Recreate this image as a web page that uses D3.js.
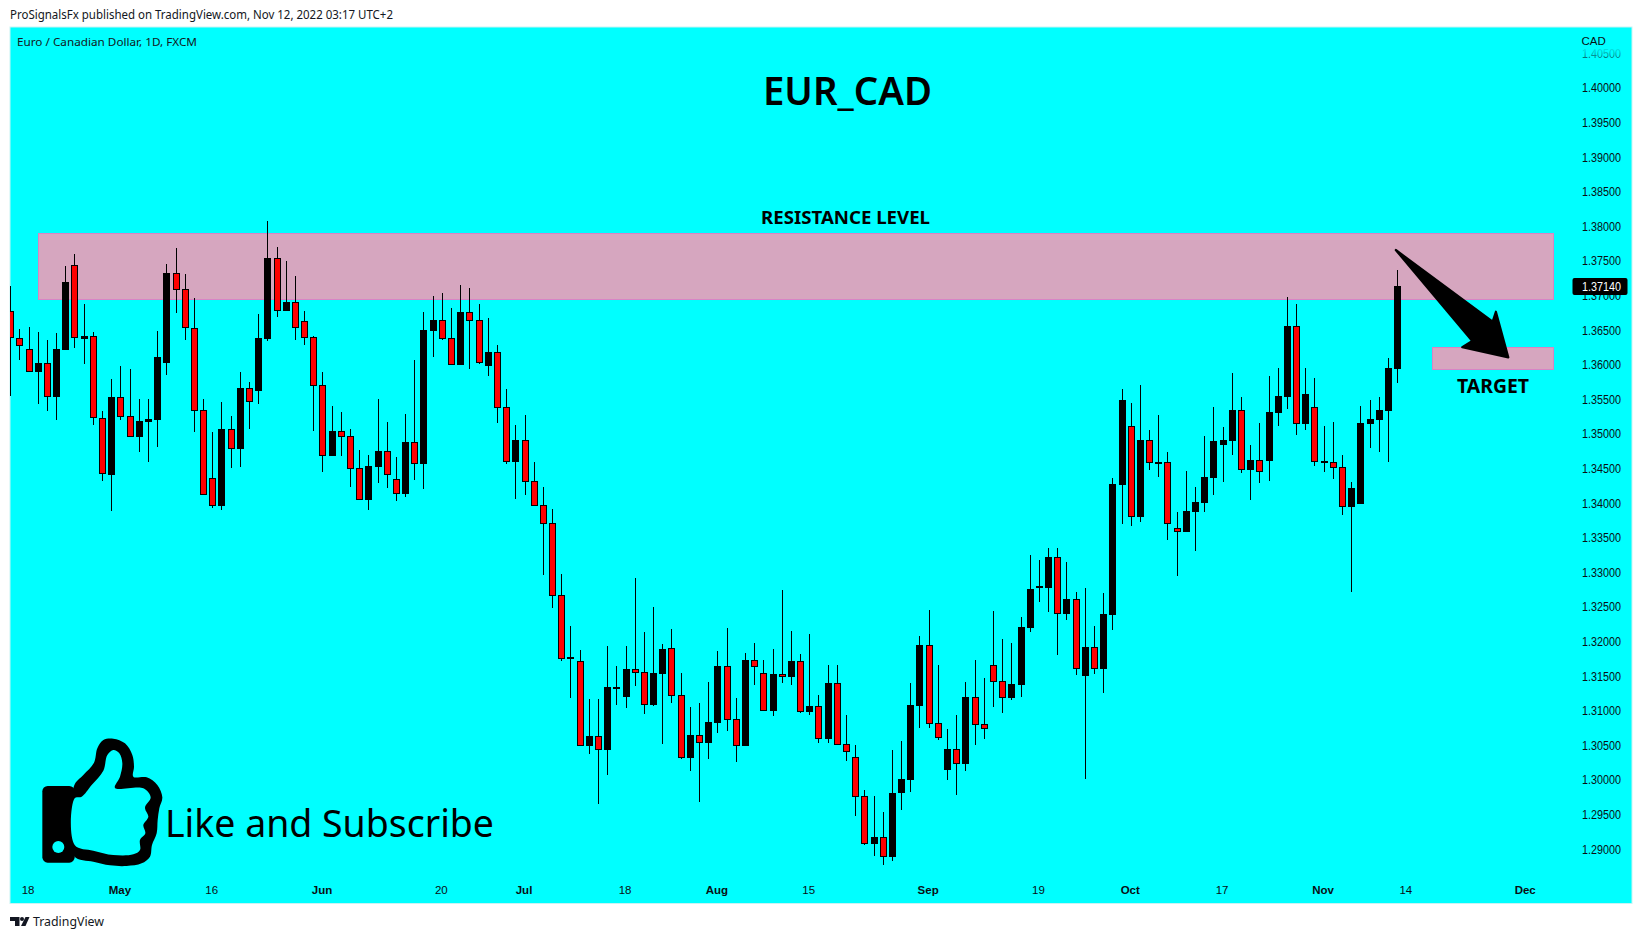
<!DOCTYPE html>
<html><head><meta charset="utf-8">
<script src="https://cdn.jsdelivr.net/npm/d3@7/dist/d3.min.js"></script>
<style>html,body{margin:0;padding:0;background:#fff}svg{display:block}</style>
</head><body><svg id="c" width="1642" height="939"></svg>
<script>
const opens=[1.36778,1.36383,1.36224,1.35892,1.36022,1.35540,1.36214,1.37438,1.36378,1.36412,
1.35227,1.34408,1.35530,1.35256,1.34957,1.35174,1.35203,1.36027,1.37322,1.37091,
1.36527,1.35342,1.34360,1.33960,1.35068,1.34784,1.35660,1.35622,1.36373,1.37539,
1.36778,1.36903,1.36629,1.36397,1.35704,1.34682,1.35039,1.34967,1.34504,1.34047,
1.34524,1.34750,1.34345,1.34133,1.34880,1.34566,1.36488,1.36642,1.36382,1.35997,
1.36758,1.36642,1.35982,1.36180,1.35385,1.34595,1.34908,1.34316,1.33969,1.33709,
1.32673,1.31748,1.31719,1.30491,1.30631,1.30433,1.31315,1.31199,1.31599,1.31556,
1.31084,1.31532,1.31902,1.31223,1.30318,1.30645,1.30534,1.30824,1.31642,1.30877,
1.30491,1.31729,1.31541,1.30997,1.31527,1.31488,1.31715,1.30982,1.31064,1.30592,
1.31397,1.30515,1.30327,1.29764,1.29075,1.29171,1.28887,1.29812,1.30000,1.31069,
1.31946,1.30819,1.30144,1.30443,1.30231,1.31194,1.30804,1.31657,1.31426,1.31185,
1.31373,1.32196,1.32774,1.32774,1.33217,1.32399,1.32610,1.31503,1.31917,1.31604,
1.32385,1.34263,1.35116,1.33801,1.34913,1.34581,1.34591,1.33637,1.33584,1.33873,
1.34003,1.34364,1.34841,1.34899,1.35342,1.34480,1.34620,1.34610,1.35308,1.35539,
1.36555,1.35149,1.35385,1.34581,1.34591,1.34518,1.33945,1.33989,1.35145,1.35202,
1.35332,1.35939];
const closes=[1.36383,1.36267,1.35892,1.36022,1.35540,1.36224,1.37197,1.36383,1.36417,1.35227,
1.34418,1.35535,1.35251,1.34962,1.35188,1.35217,1.36113,1.37327,1.37086,1.36527,
1.35338,1.34124,1.33965,1.35073,1.34789,1.35665,1.35468,1.36388,1.37544,1.36783,
1.36908,1.36537,1.36393,1.35699,1.34687,1.35044,1.34962,1.34499,1.34052,1.34538,
1.34755,1.34413,1.34138,1.34885,1.34572,1.36502,1.36647,1.36377,1.36001,1.36763,
1.36637,1.36030,1.36184,1.35380,1.34600,1.34913,1.34311,1.33964,1.33704,1.32664,
1.31748,1.31777,1.30496,1.30636,1.30438,1.31344,1.31344,1.31604,1.31551,1.31088,
1.31546,1.31893,1.31218,1.30322,1.30650,1.30539,1.30838,1.31647,1.30872,1.30496,
1.31734,1.31638,1.31002,1.31532,1.31493,1.31719,1.30987,1.31069,1.30597,1.31402,
1.30510,1.30409,1.29759,1.29080,1.29176,1.28892,1.29812,1.30014,1.31084,1.31951,
1.30814,1.30612,1.30448,1.30236,1.31199,1.30794,1.30742,1.31421,1.31185,1.31387,
1.32211,1.32760,1.32803,1.33222,1.32403,1.32615,1.31609,1.31922,1.31609,1.32399,
1.34278,1.35491,1.33805,1.34913,1.34586,1.34595,1.33704,1.33589,1.33887,1.34017,
1.34379,1.34899,1.34913,1.35347,1.34485,1.34624,1.34456,1.35318,1.35549,1.36560,
1.35149,1.35578,1.34600,1.34610,1.34514,1.33950,1.34220,1.35159,1.35217,1.35347,
1.35953,1.37140];
const highs=[1.37139,1.36518,1.36547,1.36474,1.36359,1.36455,1.37428,1.37602,1.36879,1.36474,
1.35333,1.35795,1.35983,1.35940,1.35506,1.35506,1.36489,1.37457,1.37688,1.37313,
1.36966,1.35506,1.35029,1.35463,1.35261,1.35896,1.35752,1.36735,1.38079,1.37703,
1.37500,1.37284,1.36778,1.36417,1.35896,1.35405,1.35318,1.35073,1.34769,1.34697,
1.35506,1.35174,1.34668,1.35289,1.36070,1.36763,1.36994,1.37037,1.36820,1.37153,
1.37109,1.36878,1.36676,1.36286,1.35650,1.35130,1.35274,1.34595,1.34234,1.33916,
1.32977,1.32225,1.31878,1.31170,1.31170,1.31936,1.31647,1.31936,1.32919,1.32139,
1.32500,1.31965,1.32182,1.31546,1.31055,1.31112,1.31416,1.31864,1.32196,1.31185,
1.31835,1.31980,1.31734,1.31893,1.32745,1.32153,1.31821,1.32110,1.31228,1.31662,
1.31662,1.30939,1.30505,1.29855,1.29769,1.29537,1.30433,1.30563,1.31402,1.32081,
1.32456,1.31662,1.30737,1.30939,1.31416,1.31734,1.31474,1.32442,1.32037,1.31979,
1.32355,1.33251,1.33179,1.33352,1.33352,1.33150,1.32716,1.32774,1.32225,1.32702,
1.34364,1.35650,1.35448,1.35708,1.35058,1.35275,1.34740,1.33873,1.34465,1.34234,
1.34971,1.35390,1.35101,1.35882,1.35535,1.34841,1.35159,1.35838,1.35953,1.36979,
1.36878,1.35953,1.35809,1.35116,1.35174,1.34697,1.34306,1.35405,1.35491,1.35535,
1.36098,1.37369];
const lows=[1.35554,1.36070,1.35892,1.35434,1.35333,1.35203,1.36214,1.36243,1.36012,1.35130,
1.34321,1.33888,1.35203,1.34962,1.34740,1.34596,1.34813,1.35853,1.36749,1.36359,
1.35029,1.34124,1.33931,1.33902,1.34509,1.34524,1.35073,1.35434,1.36344,1.36691,
1.36778,1.36359,1.36287,1.35044,1.34451,1.34682,1.34682,1.34235,1.34047,1.33902,
1.34292,1.34220,1.34032,1.34090,1.34336,1.34205,1.36112,1.36358,1.35997,1.35997,
1.35939,1.36011,1.35838,1.35158,1.34566,1.34060,1.34118,1.33959,1.32962,1.32485,
1.31719,1.31185,1.30491,1.30375,1.29653,1.30072,1.31084,1.31040,1.31358,1.30954,
1.31069,1.30520,1.31112,1.30303,1.30130,1.29682,1.30303,1.30679,1.30708,1.30260,
1.30491,1.31373,1.30997,1.30925,1.31402,1.31373,1.30968,1.30939,1.30534,1.30534,
1.30505,1.30274,1.29479,1.29060,1.28901,1.28771,1.28829,1.29566,1.29826,1.30751,
1.30751,1.30578,1.30000,1.29783,1.30130,1.30506,1.30592,1.31055,1.30968,1.31156,
1.31199,1.32138,1.32572,1.32427,1.31806,1.32312,1.31517,1.30014,1.31532,1.31257,
1.32168,1.33700,1.33671,1.33728,1.34480,1.34379,1.33468,1.32948,1.33584,1.33309,
1.33873,1.34119,1.34306,1.34697,1.34437,1.34046,1.34292,1.34321,1.35115,1.35361,
1.34985,1.35057,1.34537,1.34451,1.34350,1.33830,1.32717,1.33989,1.34798,1.34740,
1.34595,1.35736];
const tickLabels=["18","May","16","Jun","20","Jul","18","Aug","15","Sep","19","Oct","17","Nov","14","Dec"];
const tickBars=[2,12,22,34,47,56,67,77,87,100,112,122,132,143,152,165];
const priceTicks=[1.29,1.295,1.30,1.305,1.31,1.315,1.32,1.325,1.33,1.335,1.34,1.345,1.35,1.355,1.36,1.365,1.37,1.375,1.38,1.385,1.39,1.395,1.40,1.405];
const lastPrice=1.3714;
const resistanceZone={bars:[3,168],prices:[1.37897,1.36944]};
const targetZone={bars:[154.8,168],prices:[1.36253,1.35939]};
const arrowPoints=[[150.8,1.37659],[161.35,1.36623],[161.7,1.36767],[163.05,1.36108],[158.04,1.36253],[159.13,1.36344]];

const svg=d3.select("#c");
const uiFont="'Liberation Sans',Arial,sans-serif", noteFont="'Noto Sans',sans-serif";
const plot={l:10,t:27,r:1632,b:903.5};
const x=d3.scaleLinear().domain([0,1]).range([10.67,19.855]);
const y=d3.scaleLinear().domain([1.29,1.40]).range([849.2,88]);

svg.append("rect").attr("x",plot.l).attr("y",plot.t).attr("width",plot.r-plot.l).attr("height",plot.b-plot.t)
  .attr("fill","#00ffff").attr("stroke","#c8f4f4").attr("stroke-width",1);
svg.append("defs").append("clipPath").attr("id","pc").append("rect")
  .attr("x",plot.l).attr("y",plot.t).attr("width",plot.r-plot.l).attr("height",plot.b-plot.t);

function txt(s,tx,ty,o={}){
  const t=svg.append("text").attr("x",tx).attr("y",ty).text(s)
    .attr("font-family",o.font||noteFont).attr("font-size",o.size||12)
    .attr("font-weight",o.weight||400).attr("fill",o.fill||"#000")
    .attr("text-anchor",o.anchor||"start");
  if(o.len) t.attr("textLength",o.len).attr("lengthAdjust","spacingAndGlyphs");
  return t;
}
txt("ProSignalsFx published on TradingView.com, Nov 12, 2022 03:17 UTC+2",10,19,{size:12,len:383,fill:"#131722"});
txt("Euro / Canadian Dollar, 1D, FXCM",17,46,{size:11.5,len:180,fill:"#131722"});
txt("TradingView",33,926,{size:13,len:71,fill:"#131722"});
const logo=svg.append("g").attr("fill","#131722");
logo.append("path").attr("d","M10 917h9.5v9h-4.5v-5h-5z");
logo.append("circle").attr("cx",22).attr("cy",919).attr("r",2);
logo.append("path").attr("d","M25.5 917h4l-4 9h-4.500z");

// zones
[resistanceZone,targetZone].forEach(z=>{
  svg.append("rect").attr("x",x(z.bars[0])).attr("y",y(z.prices[0]))
    .attr("width",x(z.bars[1])-x(z.bars[0])).attr("height",y(z.prices[1])-y(z.prices[0]))
    .attr("fill","#d6a6bf").attr("stroke","#d884c4").attr("stroke-width",1).attr("shape-rendering","crispEdges");
});

// candles
const bars=opens.map((o,i)=>({i,o,c:closes[i],h:highs[i],l:lows[i]}));
const barX=d=>Math.floor(x(d.i));
const g=svg.append("g").attr("clip-path","url(#pc)").attr("shape-rendering","crispEdges");
g.selectAll("rect.w").data(bars).join("rect").attr("class","w")
  .attr("x",barX).attr("width",1)
  .attr("y",d=>Math.round(y(d.h))).attr("height",d=>Math.round(y(d.l))-Math.round(y(d.h)))
  .attr("fill","#000");
const bodyTop=d=>Math.round(y(Math.max(d.o,d.c))), bodyBot=d=>Math.round(y(Math.min(d.o,d.c)));
g.selectAll("rect.b").data(bars).join("rect").attr("class","b")
  .attr("x",d=>barX(d)-3).attr("width",7)
  .attr("y",bodyTop).attr("height",d=>Math.max(2,bodyBot(d)-bodyTop(d)))
  .attr("fill","#000");
g.selectAll("rect.r").data(bars.filter(d=>d.c<d.o && bodyBot(d)-bodyTop(d)>2)).join("rect").attr("class","r")
  .attr("x",d=>barX(d)-2).attr("width",5)
  .attr("y",d=>bodyTop(d)+1).attr("height",d=>bodyBot(d)-bodyTop(d)-2)
  .attr("fill","#ff0000");

// arrow
svg.append("polygon").attr("points",arrowPoints.map(p=>[x(p[0]),y(p[1])].join(",")).join(" "))
  .attr("fill","#000").attr("stroke","#000").attr("stroke-width",2.2).attr("stroke-linejoin","round");

// thumb icon, traced in 3x crop units
const thumbLine=d3.line().curve(d3.curveCatmullRomClosed.alpha(.5));
const thumbOuter=[[222,198],[250,165],[282,128],[292,85],[310,60],[340,56],[375,70],[397,105],[402,140],[400,170],[440,172],[472,195],[487,232],[478,265],[473,300],[470,340],[456,375],[450,410],[425,430],[380,438],[330,436],[280,425],[222,408]];
const thumbInner=[[224,235],[245,230],[275,195],[310,152],[322,105],[340,90],[358,100],[367,130],[360,170],[345,204],[430,205],[452,232],[435,263],[445,290],[430,315],[436,340],[420,360],[420,390],[400,403],[340,405],[280,392],[224,375]];
const icon=svg.append("g").attr("transform","translate(0,720) scale(0.33333)");
icon.append("path").attr("d",thumbLine(thumbOuter)).attr("fill","#000");
icon.append("rect").attr("x",127).attr("y",198).attr("width",97).attr("height",230).attr("rx",16).attr("fill","#000");
icon.append("path").attr("d",thumbLine(thumbInner)).attr("fill","#00ffff");
icon.append("rect").attr("x",224).attr("y",240).attr("width",12).attr("height",130).attr("fill","#00ffff");
icon.append("circle").attr("cx",175).attr("cy",381).attr("r",18).attr("fill","#00ffff");

// annotations
txt("EUR_CAD",763,105,{size:40,weight:600,len:169});
txt("RESISTANCE LEVEL",761,223.500,{size:18,weight:700,len:169});
txt("TARGET",1457,392.500,{size:19,weight:700,len:72});
txt("Like and Subscribe",165,837,{size:39,len:329});

// axes
const yAxis=d3.axisRight(y).tickValues(priceTicks).tickFormat(d3.format(".5f")).tickSize(0).tickPadding(0);
const ya=svg.append("g").attr("transform","translate(1582,0)").call(yAxis);
ya.select(".domain").remove();
ya.selectAll("text").attr("font-family",uiFont).attr("font-size",12).attr("fill","#0a0f14")
  .attr("textLength",39).attr("lengthAdjust","spacingAndGlyphs");
// price axis fades out at the top
const grad=svg.select("defs").append("linearGradient").attr("id","fd").attr("x1",0).attr("x2",0).attr("y1",0).attr("y2",1);
grad.append("stop").attr("offset",0).attr("stop-color","#00ffff").attr("stop-opacity",1);
grad.append("stop").attr("offset",1).attr("stop-color","#00ffff").attr("stop-opacity",.35);
svg.append("rect").attr("x",1570).attr("y",47).attr("width",60).attr("height",12).attr("fill","url(#fd)");
txt("CAD",1581.500,45,{font:uiFont,size:11.5,fill:"#0a0f14"});

const xAxis=d3.axisBottom(x).tickValues(tickBars).tickFormat((d,i)=>tickLabels[i]).tickSize(0).tickPadding(0);
const xa=svg.append("g").attr("transform","translate(-1.5,885.5)").call(xAxis);
xa.select(".domain").remove();
xa.selectAll("text").attr("font-family",uiFont).attr("font-size",11.500).attr("fill","#0a0f14")
  .attr("font-weight",(d,i)=>/^\d/.test(tickLabels[i])?400:700);

// last price tag
svg.append("rect").attr("x",1572.500).attr("y",y(lastPrice)-8).attr("width",55).attr("height",17).attr("rx",2).attr("fill","#000");
txt(d3.format(".5f")(lastPrice),1582,y(lastPrice)+5,{font:uiFont,size:12,fill:"#fff",len:39});
</script></body></html>
